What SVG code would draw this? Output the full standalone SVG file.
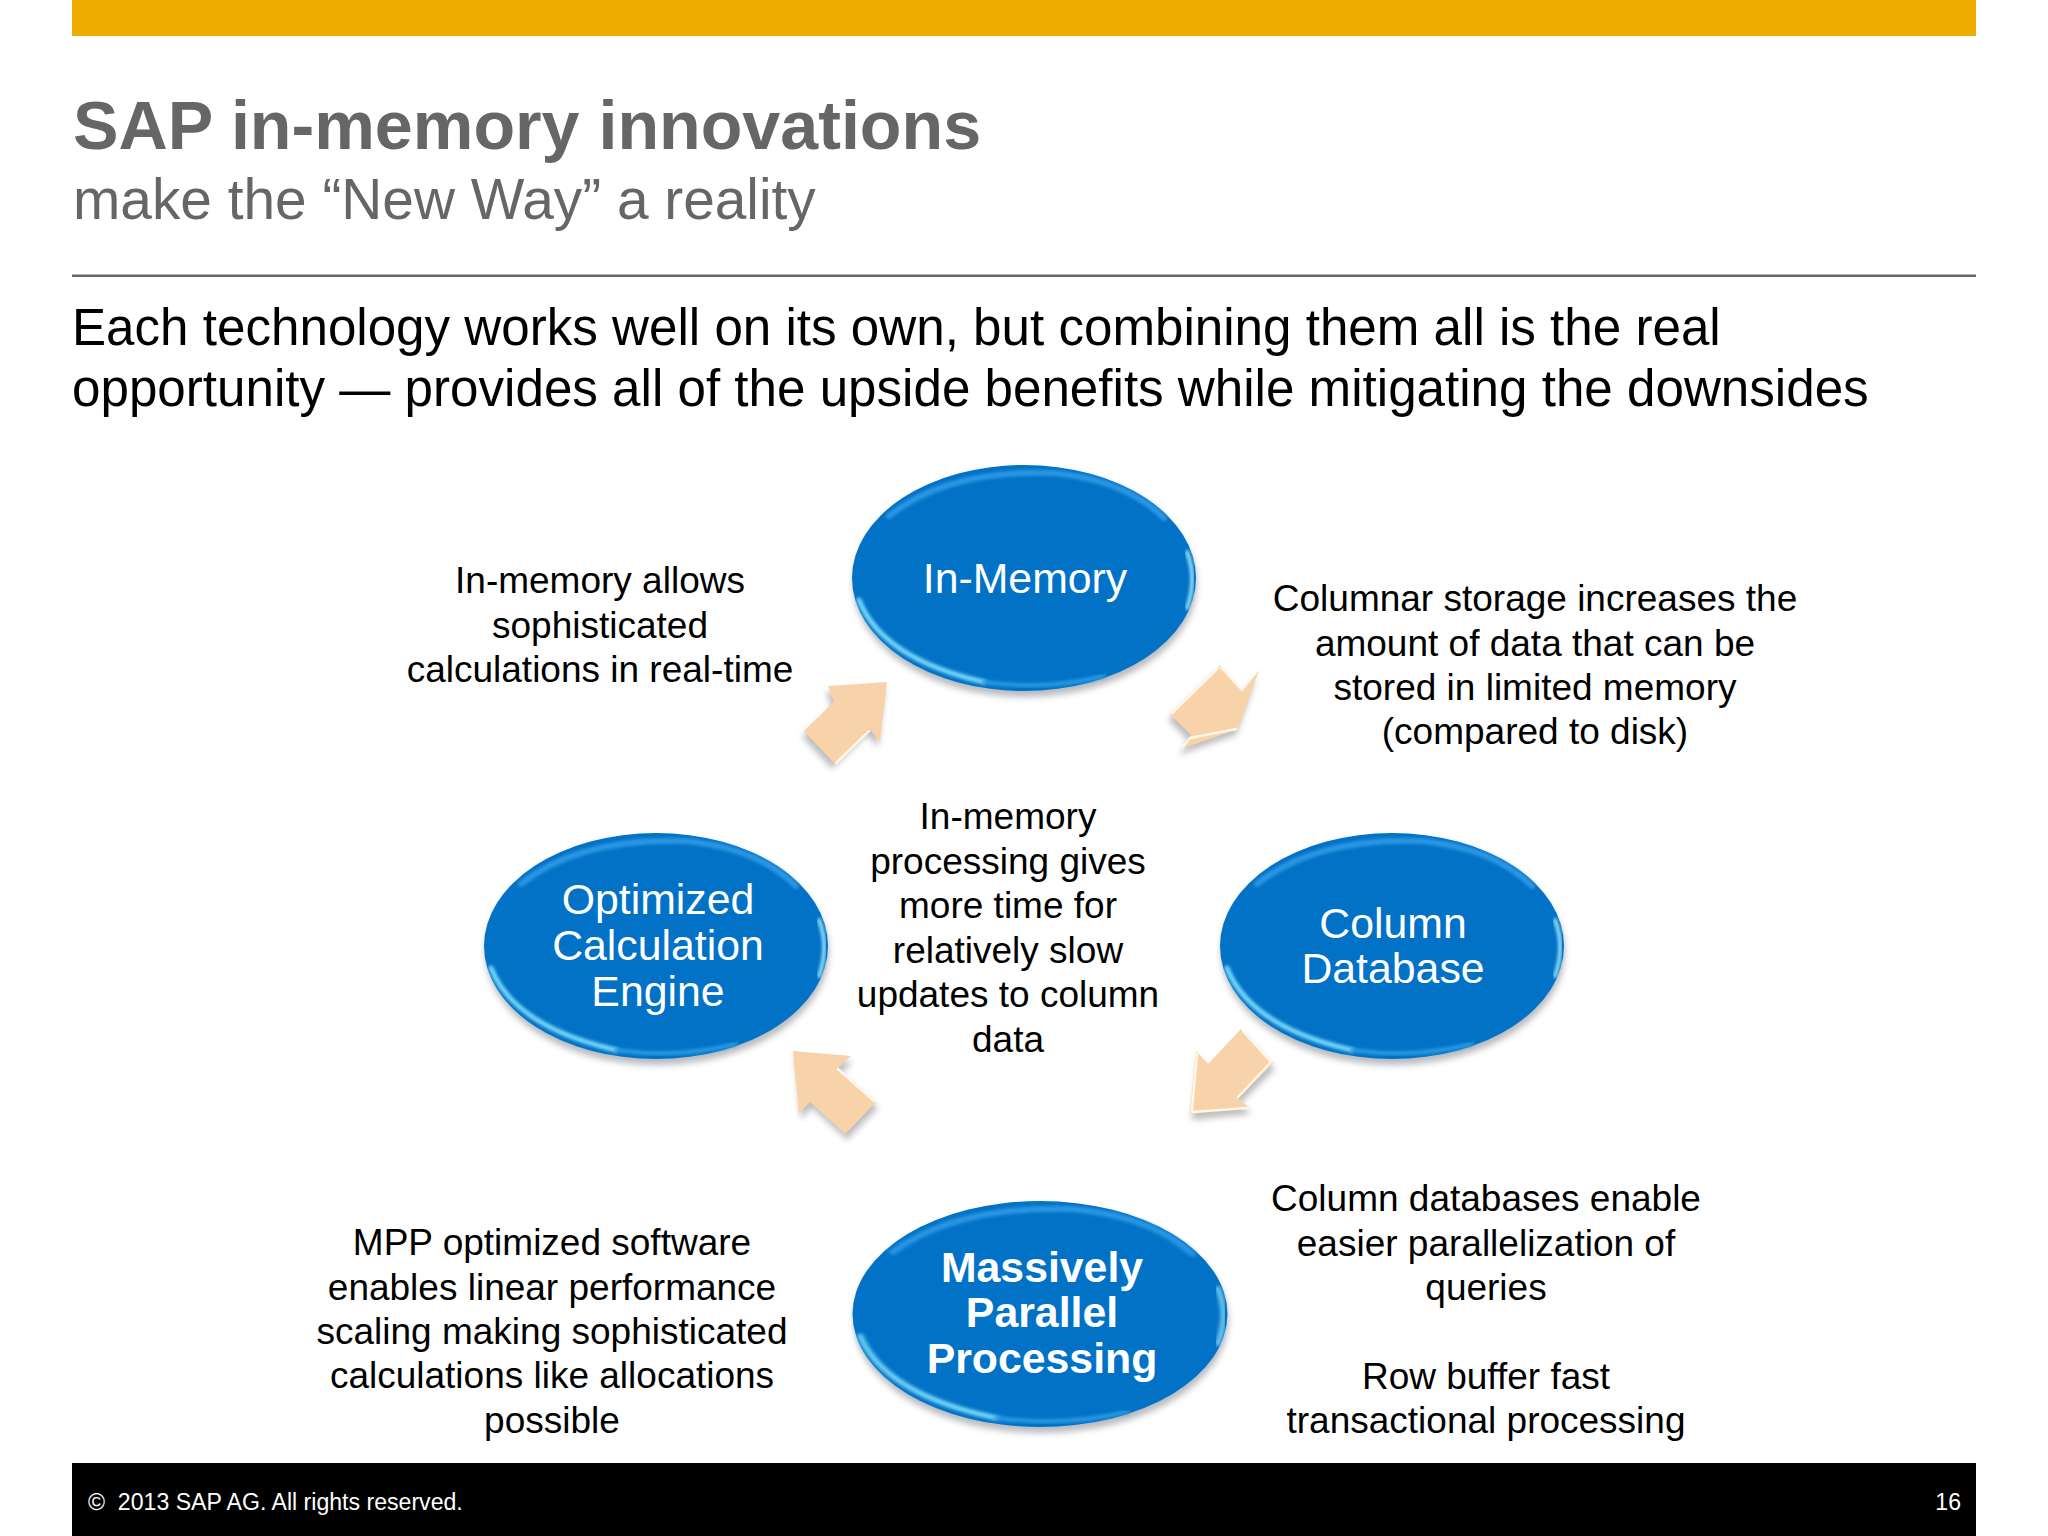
<svg xmlns="http://www.w3.org/2000/svg" width="2048" height="1536" viewBox="0 0 2048 1536">
<style>
text{font-family:"Liberation Sans",Arial,sans-serif}
.lab{font-size:37px;fill:#000;text-anchor:middle}
.nod{font-size:42.8px;fill:#fff;text-anchor:middle}
.nodb{font-size:42.8px;fill:#fff;text-anchor:middle;font-weight:bold}
.arr{fill:#f8d3a9}
.ash{fill:#888;opacity:.55;filter:url(#b3)}
.ahl{fill:none;stroke:#fff6e6;stroke-width:2.500;stroke-linecap:round;stroke-linejoin:round;filter:url(#b05)}
.hl{fill:none;stroke-linecap:round;filter:url(#b1)}
</style>
<defs>
<filter id="b05" x="-20%" y="-20%" width="140%" height="140%"><feGaussianBlur stdDeviation=".7"/></filter>
<filter id="b1" x="-20%" y="-20%" width="140%" height="140%"><feGaussianBlur stdDeviation="1.800"/></filter>
<filter id="b3" x="-30%" y="-30%" width="160%" height="160%"><feGaussianBlur stdDeviation="3"/></filter>
<g id="orb">
<ellipse cx="1" cy="6" rx="172" ry="113" fill="#8a8f96" opacity=".6" filter="url(#b3)"/>
<ellipse cx="0" cy="0" rx="172" ry="113" fill="#0272c7"/>
<path class="hl" d="M-165,22 C-150,60 -110,88 -40,104" stroke="#72d4f6" stroke-width="5"/>
<path class="hl" d="M-40,104 C0,110 40,108 80,98" stroke="#2a9ae2" stroke-width="4"/>
<path class="hl" d="M-135,-62 C-90,-98 -30,-107 30,-105 C80,-100 115,-85 140,-60" stroke="#2a96e2" stroke-width="6"/>
<path class="hl" d="M163,-26 C170,-8 170,10 163,30" stroke="#8adaf4" stroke-width="4"/>
</g>
</defs>
<rect width="2048" height="1536" fill="#fff"/>
<rect x="72" y="0" width="1904" height="36" fill="#f0ab00"/>
<text x="73" y="149" font-size="68.200" font-weight="bold" fill="#666">SAP in-memory innovations</text>
<text x="73" y="219" font-size="56.800" fill="#666">make the “New Way” a reality</text>
<rect x="72" y="274.500" width="1904" height="2.500" fill="#666"/>
<text x="72" y="345" font-size="51.150" fill="#000">Each technology works well on its own, but combining them all is the real</text>
<text x="72" y="406" font-size="51.150" fill="#000">opportunity — provides all of the upside benefits while mitigating the downsides</text>

<g id="connectors">
<g id="arrow-calc-to-memory">
<polygon class="ash" transform="translate(-2,6)" points="887,682 828,686 834,702 804,731 834,763 869,729 880,741"/>
<polygon class="arr" points="887,682 828,686 834,702 804,731 834,763 869,729 880,741"/>
<path class="ahl" d="M869,731 L836,763"/>
</g>
<g id="arrow-memory-to-column">
<polygon class="ash" transform="translate(-2,6)" points="1220,665 1243,691 1259,670 1238,729 1181,749 1191,735 1170,714"/>
<polygon class="arr" points="1220,665 1243,691 1259,670 1238,729 1181,749 1191,735 1170,714"/>
<path class="ahl" d="M1236,729 L1190,738 L1182,748 M1221,667 L1242,690 M1172,713 L1218,668"/>
</g>
<g id="arrow-column-to-mpp">
<polygon class="ash" transform="translate(2,6)" points="1241,1029 1273,1063 1238,1098 1249,1108 1190,1114 1196,1051 1208,1064"/>
<polygon class="arr" points="1241,1029 1273,1063 1238,1098 1249,1108 1190,1114 1196,1051 1208,1064"/>
<path class="ahl" d="M1197,1054 L1192,1110 M1243,1031 L1271,1062 L1238,1097 M1192,1112 L1247,1108"/>
</g>
<g id="arrow-mpp-to-calc">
<polygon class="ash" transform="translate(2,6)" points="793,1051 851,1056 838,1068 876,1102 845,1134 810,1102 799,1113"/>
<polygon class="arr" points="793,1051 851,1056 838,1068 876,1102 845,1134 810,1102 799,1113"/>
<path class="ahl" d="M838,1069 L874,1101"/>
</g>
</g>

<g id="node-in-memory">
<use href="#orb" transform="translate(1024,578)"/>
<text class="nod" x="1025" y="593">In-Memory</text>
</g>
<g id="node-calc-engine">
<use href="#orb" transform="translate(656,946)"/>
<text class="nod"><tspan x="658" y="914">Optimized</tspan><tspan x="658" y="960">Calculation</tspan><tspan x="658" y="1006">Engine</tspan></text>
</g>
<g id="node-column-db">
<use href="#orb" transform="translate(1392,946)"/>
<text class="nod"><tspan x="1393" y="937.500">Column</tspan><tspan x="1393" y="983">Database</tspan></text>
</g>
<g id="node-mpp">
<use href="#orb" transform="translate(1040,1314) scale(1.09,1)"/>
<text class="nodb"><tspan x="1042" y="1282">Massively</tspan><tspan x="1042" y="1327">Parallel</tspan><tspan x="1042" y="1373">Processing</tspan></text>
</g>

<g id="labels">
<text class="lab"><tspan x="600" y="593">In-memory allows</tspan><tspan x="600" y="637.500">sophisticated</tspan><tspan x="600" y="682">calculations in real-time</tspan></text>
<text class="lab"><tspan x="1535" y="611">Columnar storage increases the</tspan><tspan x="1535" y="655.500">amount of data that can be</tspan><tspan x="1535" y="700">stored in limited memory</tspan><tspan x="1535" y="744">(compared to disk)</tspan></text>
<text class="lab"><tspan x="1008" y="829">In-memory</tspan><tspan x="1008" y="873.500">processing gives</tspan><tspan x="1008" y="918">more time for</tspan><tspan x="1008" y="962.500">relatively slow</tspan><tspan x="1008" y="1007">updates to column</tspan><tspan x="1008" y="1051.500">data</tspan></text>
<text class="lab"><tspan x="552" y="1255">MPP optimized software</tspan><tspan x="552" y="1299.500">enables linear performance</tspan><tspan x="552" y="1344">scaling making sophisticated</tspan><tspan x="552" y="1388">calculations like allocations</tspan><tspan x="552" y="1433">possible</tspan></text>
<text class="lab"><tspan x="1486" y="1211">Column databases enable</tspan><tspan x="1486" y="1255.500">easier parallelization of</tspan><tspan x="1486" y="1300">queries</tspan><tspan x="1486" y="1389">Row buffer fast</tspan><tspan x="1486" y="1433">transactional processing</tspan></text>
</g>

<rect x="72" y="1463" width="1904" height="73" fill="#000"/>
<text x="88" y="1510" font-size="23.100" fill="#fff" xml:space="preserve">©  2013 SAP AG. All rights reserved.</text>
<text x="1961" y="1510" font-size="23.100" fill="#fff" text-anchor="end">16</text>
</svg>
